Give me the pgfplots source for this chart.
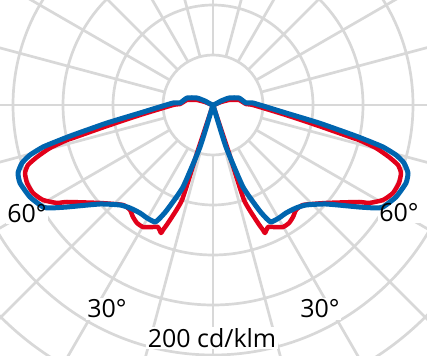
\documentclass[border=0pt]{standalone}
\usepackage{pgfplots}
\pgfplotsset{compat=1.18}
\usepackage{fontspec}
\setmainfont{Open Sans}
\definecolor{gridc}{RGB}{216,216,216}
\definecolor{cblue}{RGB}{0,101,175}
\definecolor{cred}{RGB}{226,0,26}
\begin{document}
\begin{tikzpicture}
% polar grid (centre of the diagram at 213bp,251bp from lower left)
\begin{scope}
\clip (0,0) rectangle (427bp,356bp);
\foreach \r in {50,100,...,400} {
  \draw[gridc, line width=2.7bp] (213bp,251bp) circle[radius=\r bp];
}
\foreach \a in {0,15,...,345} {
  \draw[gridc, line width=2.7bp] (213bp,251bp) ++(\a:50bp) -- ++(\a:400bp);
}
\end{scope}
\begin{axis}[
  scale only axis, width=427bp, height=356bp,
  xmin=-213, xmax=214, ymin=-251, ymax=105,
  hide axis, clip=true,
]
% white knock-outs behind labels
\node[fill=white, inner sep=1.5bp, text=white, font=\fontsize{25bp}{30bp}\selectfont] at (axis cs:-106,-204) {30°};
\node[fill=white, inner sep=1.5bp, text=white, font=\fontsize{25bp}{30bp}\selectfont] at (axis cs:107,-204) {30°};
\node[fill=white, inner sep=1.5bp, text=white, font=\fontsize{25bp}{30bp}\selectfont] at (axis cs:-1,-233) {200 cd/klm};
\node[fill=white, inner sep=1bp, text=white, font=\fontsize{25bp}{30bp}\selectfont] at (axis cs:-186,-109) {60°};
\node[fill=white, inner sep=1bp, text=white, font=\fontsize{25bp}{30bp}\selectfont] at (axis cs:186,-108) {60°};
% red series
\addplot[cred, line width=4.5bp, line join=round, line cap=round, smooth, tension=0.3] coordinates {
(0,0) (-15,-45) (-31,-95) (-45,-118) (-50,-125) (-52,-128) (-55,-122) (-60,-122)
(-70,-122) (-76,-118) (-80,-112) (-83,-105) (-90,-100) (-113,-98) (-146,-97)
(-156,-98) (-170,-95) (-180,-88) (-186,-78) (-188,-68) (-185,-60) (-176,-52)
(-163,-43) (-146,-35) (-140,-33) (-106,-21) (-73,-10) (-40,0) (-33,1) (-26,5)
(-16,5) (-8,3) (0,0)
(8,3) (16,5) (26,5) (33,1) (40,0) (73,-10) (106,-21) (140,-33) (146,-35)
(163,-43) (176,-52) (185,-60) (188,-68) (186,-78) (180,-88) (170,-95) (156,-98)
(146,-97) (113,-98) (90,-100) (83,-105) (80,-112) (76,-118) (70,-122) (60,-122)
(55,-122) (52,-128) (50,-125) (45,-118) (31,-95) (15,-45) (0,0)
};
% blue series
\addplot[cblue, line width=5bp, line join=round, line cap=round, smooth, tension=0.3] coordinates {
(0,0) (-13,-42) (-30,-82) (-46,-105) (-53,-113) (-58,-117) (-66,-113) (-73,-108)
(-83,-103) (-93,-100) (-113,-99) (-146,-102) (-163,-103) (-170,-102) (-183,-92)
(-193,-78) (-195,-68) (-191,-58) (-183,-50) (-170,-42) (-153,-35) (-140,-30)
(-106,-18) (-73,-8) (-40,2) (-33,2) (-26,7) (-16,7) (-8,4) (0,0)
(8,4) (16,7) (26,7) (33,2) (40,2) (73,-8) (106,-18) (140,-30) (153,-35)
(170,-42) (183,-50) (191,-58) (195,-68) (193,-78) (183,-92) (170,-102) (163,-103)
(146,-102) (113,-99) (93,-100) (83,-103) (73,-108) (66,-113) (58,-117) (53,-113)
(46,-105) (30,-82) (13,-42) (0,0)
};
% labels
\node[inner sep=1.5bp, font=\fontsize{25bp}{30bp}\selectfont] at (axis cs:-106,-204) {30°};
\node[inner sep=1.5bp, font=\fontsize{25bp}{30bp}\selectfont] at (axis cs:107,-204) {30°};
\node[inner sep=1.5bp, font=\fontsize{25bp}{30bp}\selectfont] at (axis cs:-1,-233) {200 cd/klm};
\node[inner sep=1bp, font=\fontsize{25bp}{30bp}\selectfont] at (axis cs:-186,-109) {60°};
\node[inner sep=1bp, font=\fontsize{25bp}{30bp}\selectfont] at (axis cs:186,-108) {60°};
\end{axis}
\pgfresetboundingbox
\useasboundingbox (0,0) rectangle (427bp,356bp);
\end{tikzpicture}
\end{document}
